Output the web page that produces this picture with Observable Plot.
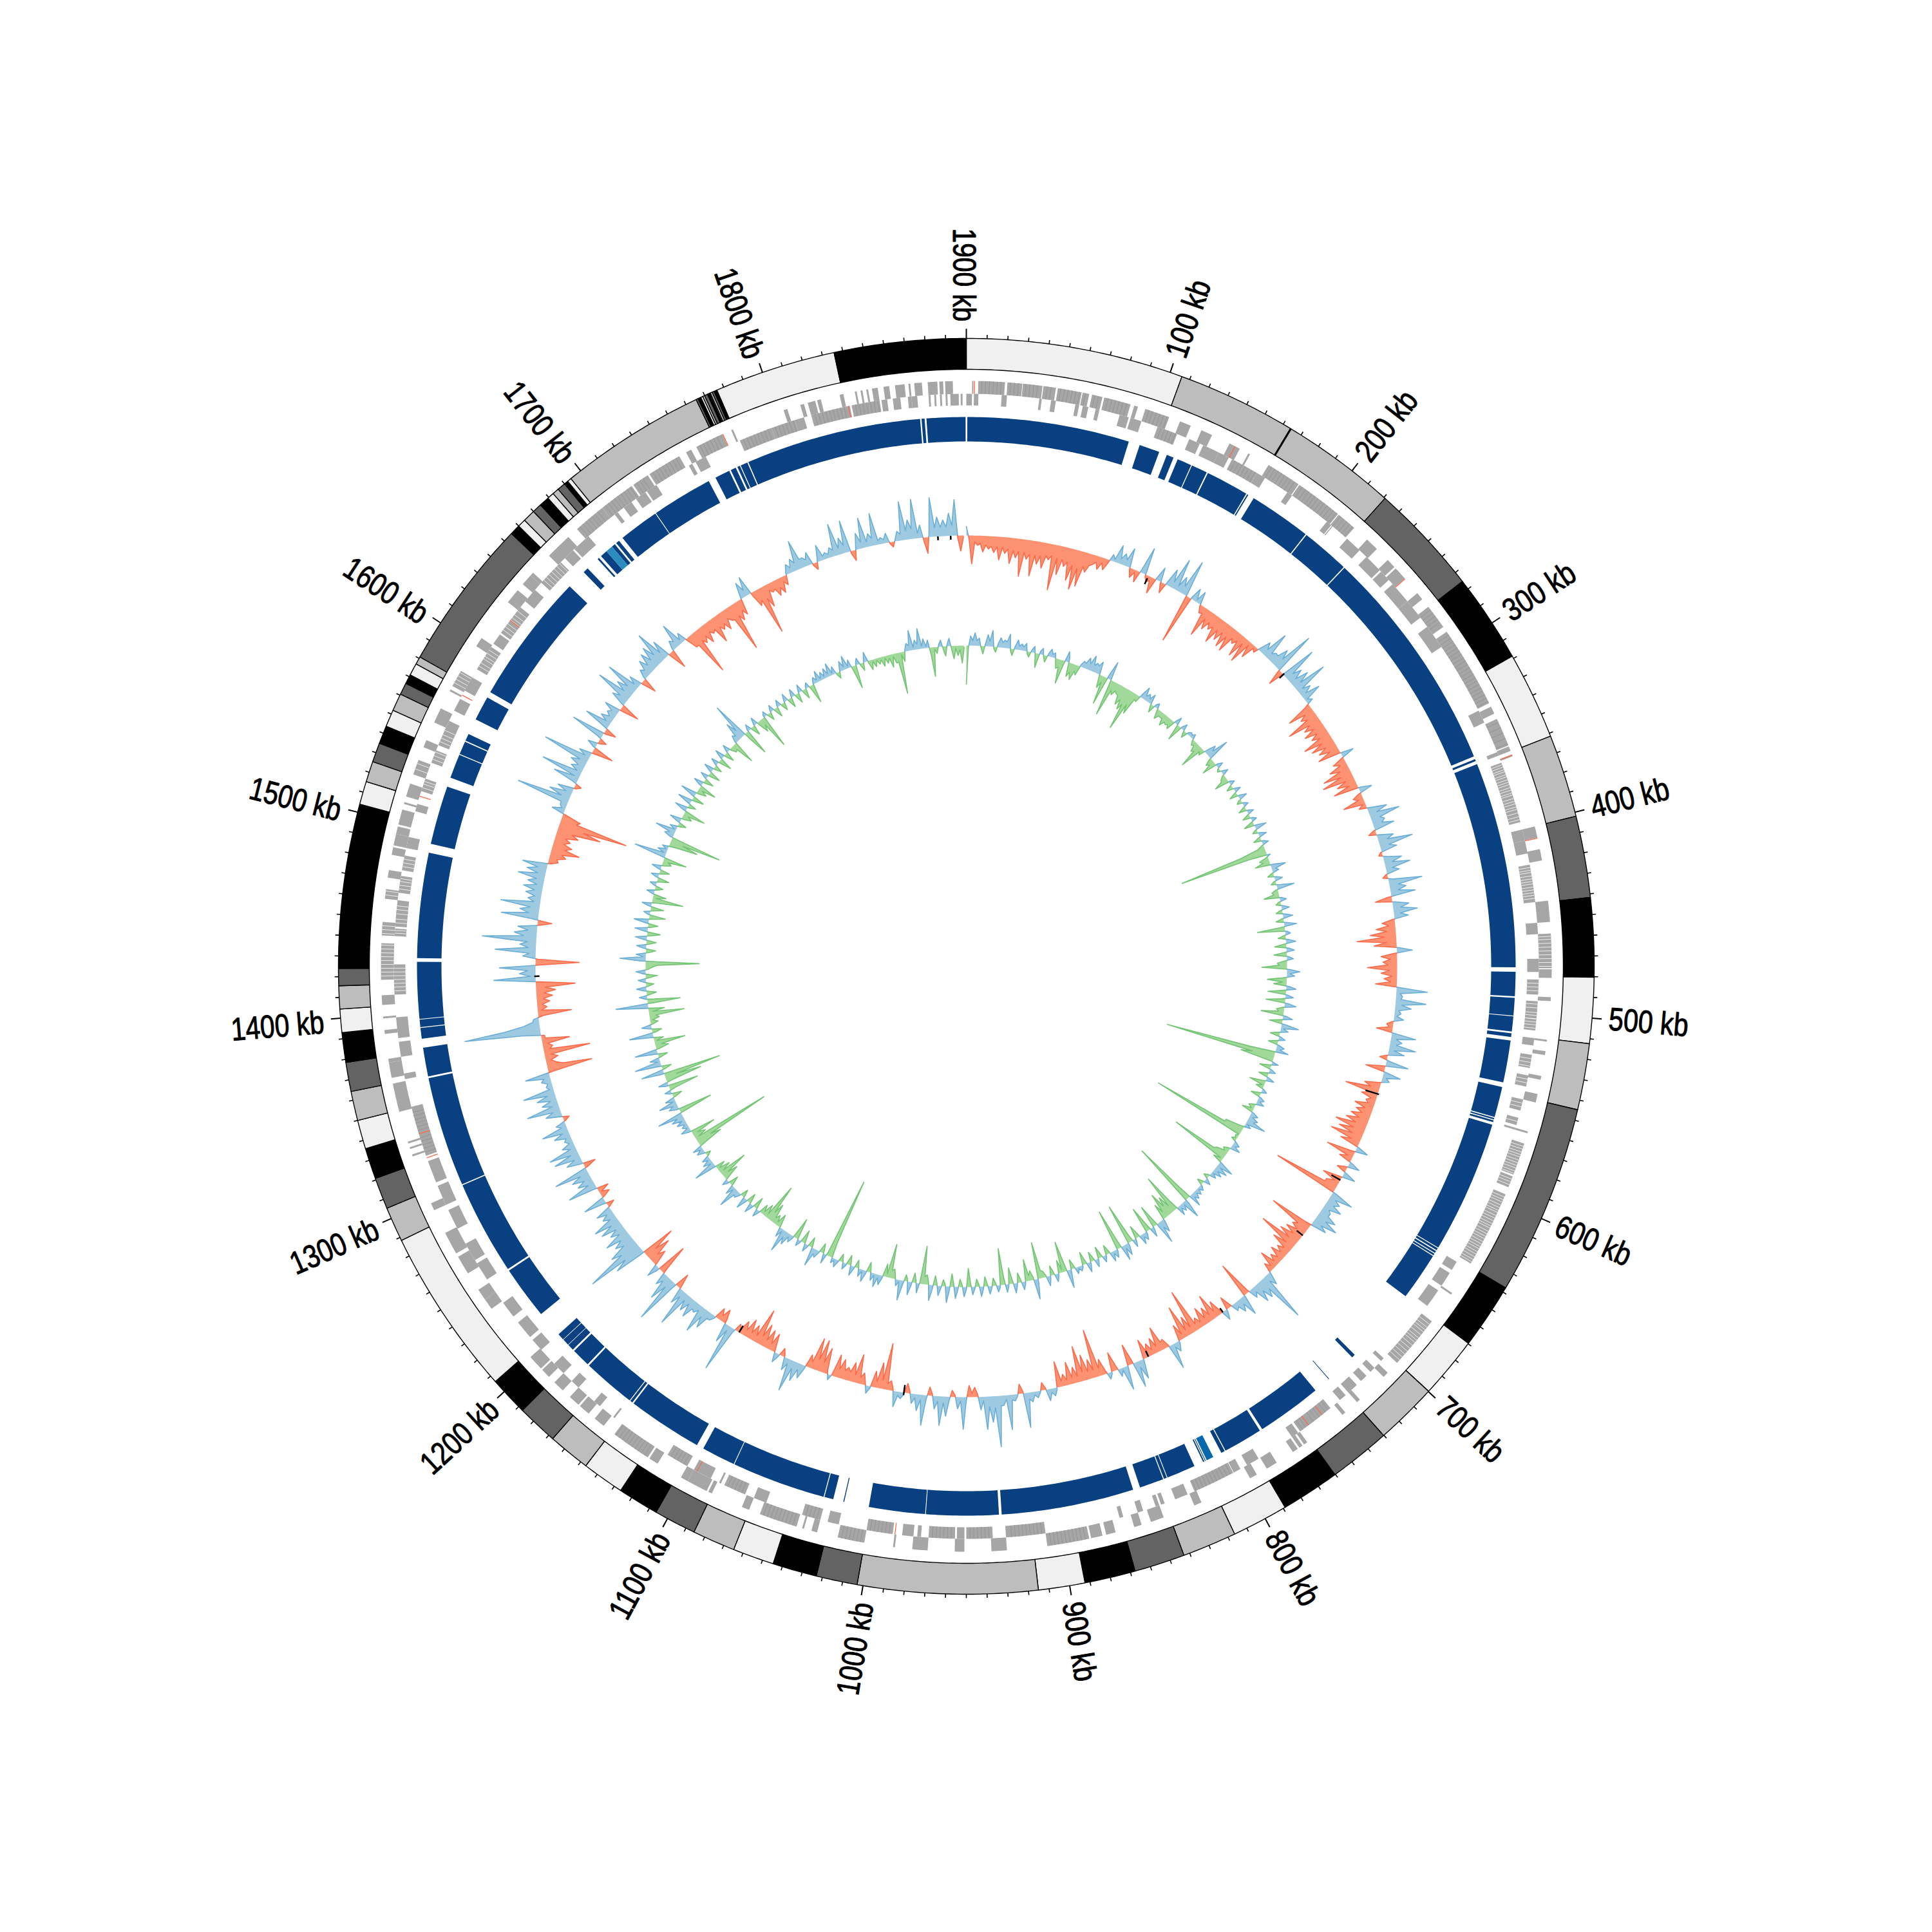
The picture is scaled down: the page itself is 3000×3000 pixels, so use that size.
<!DOCTYPE html>
<html><head><meta charset="utf-8">
<script src="https://cdn.jsdelivr.net/npm/d3@7"></script>
<script src="https://cdn.jsdelivr.net/npm/@observablehq/plot@0.6"></script>
<style>html,body{margin:0;padding:0;background:#fff}</style></head>
<body><div id="chart"></div>
<script>
const genomeKb = 1900;
const majorTicks = d3.range(100, 1901, 100);
const minorTicks = d3.range(10, 1901, 10).filter(k => k % 100 !== 0);
const tickLabels = majorTicks.map(k => k + " kb");

// contigs: [start kb, end kb, shade]
const contigs = [[0,106,"L"],[106,164,"B"],[164,164.5,"K"],[164.5,220.7,"B"],[220.7,275.5,"D"],[275.5,318.8,"K"],[318.8,361.5,"L"],[361.5,402,"B"],[402,441.7,"D"],[441.7,480.3,"K"],[480.3,512.4,"L"],[512.4,544.7,"B"],[544.7,637.6,"D"],[637.6,669.8,"K"],[669.8,699.8,"L"],[699.8,730.2,"B"],[730.2,760.3,"D"],[760.3,789,"K"],[789,816.5,"L"],[816.5,843,"B"],[843,867.7,"D"],[867.7,892.5,"K"],[892.5,915.2,"L"],[915.2,1002.9,"B"],[1002.9,1023,"D"],[1023,1044.6,"K"],[1044.6,1064.8,"L"],[1064.8,1085.7,"B"],[1085.7,1106.3,"D"],[1106.3,1126.3,"K"],[1126.3,1146.9,"L"],[1146.9,1167.5,"B"],[1167.5,1187.5,"D"],[1187.5,1206.5,"K"],[1206.5,1288.4,"L"],[1288.4,1305.4,"B"],[1305.4,1320.8,"D"],[1320.8,1335.9,"K"],[1335.9,1350,"L"],[1350,1364.3,"B"],[1364.3,1378.5,"D"],[1378.5,1393,"K"],[1393,1404.4,"L"],[1404.4,1415.6,"B"],[1415.6,1424,"D"],[1424,1504,"K"],[1504,1515.3,"L"],[1515.3,1525.4,"B"],[1525.4,1534.8,"D"],[1534.8,1543.7,"K"],[1543.7,1552,"L"],[1552,1560.6,"B"],[1560.6,1566.4,"D"],[1566.4,1571,"K"],[1571,1577,"L"],[1577,1580.8,"B"],[1580.8,1655,"D"],[1655,1660,"K"],[1660,1664,"L"],[1664,1670,"B"],[1670,1674.6,"D"],[1674.6,1679.5,"K"],[1679.5,1682.8,"L"],[1682.8,1686,"B"],[1686,1690,"D"],[1690,1692,"K"],[1692,1694,"L"],[1694,1765.5,"B"],[1765.5,1766.5,"D"],[1766.5,1768,"K"],[1768,1769,"L"],[1769,1770,"B"],[1770,1771.5,"D"],[1771.5,1772.5,"K"],[1772.5,1773,"L"],[1773,1774,"B"],[1774,1775,"D"],[1775,1776.5,"K"],[1776.5,1835.8,"L"],[1835.8,1900,"K"]];
const contigShades = {K:"#000000",D:"#636363",B:"#bdbdbd",L:"#f0f0f0"};

// forward-strand gene runs (outer row), kb
const forwardGenes = [[3,3.7],[6.2,20],[21.3,29],[29.3,39.5],[40,46.5],[47.5,60],[60.5,64],[65.5,71],[72,86],[88,90],[94,107],[113,119],[125,131],[141,147],[152,153],[164,182.5],[183,208],[208.5,219],[228,235],[243,248],[249,256],[266,270],[275,288],[291,334],[336,340],[343,358],[358.5,361],[363,364],[402,408],[414,420],[441,452],[458,476],[476.5,481],[491,493],[513,514],[519,521],[532,534],[541.5,546],[561.5,562.5],[568,585],[586,592],[596,636],[654,655],[672,700],[707,710],[727,729],[737,739],[762,764],[765,767],[768,771],[781,787],[793,797],[825,829],[846,853],[858,862],[872,877],[879,885],[886,908],[929,937],[951,956],[970,978],[987,988],[1003,1017],[1028,1031],[1035,1036],[1039,1059],[1065,1069],[1086,1088],[1089,1100],[1100,1104],[1118,1123],[1124,1145],[1152,1158],[1162,1168],[1169,1175],[1180,1186],[1190,1195],[1196,1204],[1236,1242],[1242,1248],[1258,1268],[1270,1282],[1295,1299],[1325,1326],[1329,1330],[1332,1333],[1349,1364],[1367,1375],[1375,1377],[1390,1392],[1398,1399],[1405,1410],[1418,1437],[1441,1448],[1460,1465],[1471,1475],[1483,1487],[1488,1494],[1494,1498],[1499,1507],[1510,1511],[1514,1521],[1526,1534],[1541,1545],[1555,1563],[1573,1574],[1576,1585],[1600,1605],[1628,1636],[1640,1646],[1646,1648],[1660,1674],[1680,1697],[1697,1716],[1717,1726],[1727,1745],[1749,1752],[1755,1770],[1775,1776],[1804,1806],[1813,1815],[1817,1821],[1822,1824],[1834,1836],[1842,1843],[1845,1846],[1848,1849],[1851,1854],[1857,1860],[1863,1868],[1870,1871],[1873,1877],[1880,1885],[1886,1888],[1889,1893]];
// reverse-strand gene runs (inner row), kb
const reverseGenes = [[0,3],[4,6.4],[18.7,21.5],[38.7,40],[45,47.5],[58,60],[62,65],[69,71],[82,87],[88,94],[103,114],[121,127],[129,138],[138,144],[146,161],[161,166],[180,183],[206,209],[209.5,210],[220,229],[234,244],[245,251],[254,266],[266,270],[269,277],[283,296],[335,342],[359,361],[365,398],[402,408],[408,415],[421,441],[452,458],[471,478],[482,490],[493.5,502.6],[503,509],[513,517],[522,529],[533,539],[546,552],[556,560],[561.5,562.5],[639,644],[646,654],[657,667],[703,705],[710,713],[716,720],[723,729],[731,735],[741.5,761.7],[763,767],[788,795],[799,803],[803.3,826],[830,837],[843,845],[846,848],[855,858],[866,868],[908,929],[936,950],[951,955],[956,970],[974,976],[978,984],[989,1003],[1018,1024],[1028,1038],[1058,1065],[1070,1082],[1084,1085],[1090,1100],[1104,1116],[1150,1151],[1160,1164],[1175,1180],[1186,1193],[1203,1210],[1212,1222],[1226,1235],[1250,1260],[1262,1272],[1281,1292],[1295,1306],[1308,1320],[1323,1350],[1365,1368],[1377,1385],[1387,1398],[1410,1426],[1441,1445],[1446,1454],[1452,1460],[1464,1473],[1476,1484],[1488,1494],[1508,1512],[1519,1526],[1535,1542],[1545,1555],[1553,1559],[1565,1572],[1577,1585],[1590,1604],[1606,1612],[1613,1630],[1634,1642],[1647,1662],[1665,1671],[1672,1682],[1700,1702],[1706,1711],[1714,1720],[1721,1727],[1747,1749],[1751,1757],[1777,1795],[1795,1808],[1808,1813],[1817,1838],[1839,1854],[1855,1858],[1861,1865],[1869,1871],[1871,1874],[1880,1881],[1883,1884],[1886,1887],[1889,1890],[1891.5,1896],[1897,1898]];
// gene boundaries inside the runs: pale gaps and darker seams, kb
const paleForward = [459.5,461,463,465,467,469,471,473,475,569.5,571,572.6,574,575.3,577,578.5,580,581.4,583,584.3,587.5,589,590.6,597.5,599,600.3,602,603.5,605,606.2,608,609.5,611,612.6,614,615.2,617,618.5,620,621.4,623,624.5,626,627.3,629,630.4,632,633.6,635,674,676,677.6,679,681,683,684.5,686,688,690,692,694,696,698,1420,1422,1424,1426,1428,1430,1432,1434,1436,1442,1444,1446,1462,1464,1529,1532,1578,1580,1582,1584];
const paleReverse = [366.2,367.5,369,370.1,371.8,373,374.6,376,377.3,379,380.4,382,383.1,385,386.6,388,389.7,391,393,395,396.6,422.5,424,425.2,427,428.6,430,431.3,433,434.5,436,437.4,439,484,486,488,495,497,499.5,501,504.5,506,507.8,524,526,528,535,537,548,550,558,1412,1414,1416,1418,1420,1422,1424,1442.5,1444,1448,1450,1452.8,1455,1457,1466,1468,1470,1471.5,1478,1480,1482,1521,1523,1524.5,1537,1539,1541,1547,1549,1551,1553.5,1592,1594,1596.5,1598,1600,1602,1615,1617,1619,1621.5,1623,1625,1627.5,1649,1651,1653,1655,1657,1659,1661];
const seamForward = [8,10,12,14,16,18,23,25,27,31,33,35,37,42,44,49,51,53,55,57,59,62,67,69,74,76,78,80,82,84,96,98,100,102,104,106,166,168,170,172,174,176,178,180,185,187,189,191,193,195,197,199,201,203,205,207,210,212,214,216,218,277,279,281,283,285,293,295,297,299,301,303,305,307,309,311,313,315,317,319,321,323,325,327,329,331,333,345,348,351,354,357,888,890,892,894,896,898,900,902,904,906,1005,1007,1009,1011,1013,1015,1041,1043,1045,1047,1049,1051,1053,1055,1057,1126,1128,1130,1132,1134,1136,1138,1140,1142,1144,1682,1684,1686,1688,1690,1692,1694,1699,1701,1703,1705,1707,1709,1711,1713,1715,1719,1721,1723,1729,1731,1733,1735,1737,1739,1741,1743,1757,1759,1761,1763,1765,1767];
const seamReverse = [105,107,109,111,113,148,150,152,154,156,158,160,743,745,749,751,753,758,760,805,807,809,811,813,815,817,819,821,823,825,910,912,914,916,918,920,922,924,926,938,940,942,944,946,948,958,960,962,964,966,968,991,993,995,997,999,1001,1030,1032,1034,1036,1072,1074,1076,1078,1080,1106,1108,1110,1112,1114,1325,1327,1329,1331,1333,1337,1339,1341,1343,1345,1347,1779,1781,1783,1785,1787,1789,1791,1793,1797,1799,1801,1803,1805,1807,1819,1821,1823,1825,1827,1829,1831,1833,1835,1841,1843,1845,1847,1849,1851,1853];
// RNA genes: forward / reverse positions, kb
const forwardRna = [4,144,256,363,408,1770];
const reverseRna = [747,756,987.6,1098,1321.6,1335,1516,1574,1621,1837];

// conserved blocks, kb
const blocks = [[0.55,90.8],[97.1,108.5],[113,117],[119.4,127.5],[128,137],[137.7,161.7],[162.3,163],[166.5,201.3],[201.9,229],[229.6,356.4],[358,359.2],[361,475.5],[478,491.5],[492.4,502.2],[502.6,511],[512,514],[516,539.4],[542,559],[559.6,560.4],[561,562],[563.5,637.5],[638,639.2],[639.8,641],[641.5,642.5],[643,669.8],[712.5,714.5],[731.8,732.2],[741.7,778],[779.5,801.4],[801.9,804],[813.6,814],[814.5,815.2],[820.5,836.6],[837,838.7],[839.2,852.7],[856.7,930.5],[932,972.3],[972.7,1004],[1017.8,1018.3],[1024,1029],[1029.5,1081.8],[1082.2,1101],[1105,1146.8],[1147.6,1149],[1149.5,1179],[1180,1190.5],[1191.5,1195],[1195.3,1199],[1199.3,1203],[1217.7,1247.5],[1248.5,1301],[1301.6,1363],[1364,1380],[1385,1391],[1391.4,1395.6],[1396,1427.5],[1429.5,1488],[1493,1525.8],[1531,1544.5],[1545,1552.4],[1553,1557],[1566,1579.7],[1583,1656],[1667,1670],[1677.5,1678.5],[1680,1684],[1688,1690],[1691,1693],[1695.5,1718],[1718.4,1752.4],[1756.6,1765],[1766,1769],[1770,1771.5],[1772,1776],[1776.6,1874.5],[1875.3,1877],[1878,1899.6]];
const lightBlocks = [[809,813],[1684,1688]];

// GC skew readings every 2 kb: [start kb, values]
const gcSkew = [
[0,[14,-6,-44,-10,-15,-12,-25,-14,-20,-16,-25,-16,-36,-16,-25,-18,-40,-20,-30,-20,-58,-20,-30,-22,-55,-22,-35,-22,-40,-20,-25,-18,-71,-20,-45,-20,-30,-22,-50,-25,-62,-28,-55,-22,-30,-18,-15,-10,-20,-8]],
[100,[-18,-6,10,4,28,8,18,10,30,-3,-14,-4,-18,5,42,-3,-10,-6,-25,3,22,-4,-16,6,28,10,50,8,25,12,57,4,-77,3,20,4,20,-3,-12,-10,-46,-15,-30,-16,-25,-18,-42,-18,-32,-16]],
[200,[-38,-18,-40,-14,-20,-12,-36,-10,-40,-6,-25,-4,-8,6,20,10,44,10,15,14,30,16,67,-3,-25,5,56,12,25,10,30,12,54,8,20,8,30,4,10,-8,-41,-14,-25,-16,-53,-18,-30,-16,-35,-16]],
[300,[-28,-16,-46,-18,-38,-16,-30,-14,-36,-2,20,-3,-20,-10,-30,-15,-45,-18,-50,-14,-30,-12,-39,4,20,-4,-15,-8,-34,-4,-12,8,30,12,47,14,20,14,32,-3,-12,6,25,14,53,14,25,-2,-6,8]],
[400,[28,12,39,10,20,-2,-8,8,52,14,25,12,38,-6,-26,6,25,12,37,10,22,-4,-20,-10,-30,-14,-40,-18,-61,-16,-35,4,24,-6,-25,-10,-22,-14,-46,-12,-25,-8,-20,-10,-33,8,48,6,10,8]],
[500,[47,10,25,6,10,4,15,-2,-10,-6,-25,4,38,8,18,10,41,8,25,-2,-12,6,35,-6,-30,4,27,6,12,-4,-25,-14,-53,-12,-25,-8,-15,-10,-30,-12,-25,-14,-30,-16,-35,-18,-49,-18,-40,-16]],
[600,[-50,-14,-30,3,19,-6,-45,-8,-20,4,18,-4,-15,4,20,-6,-30,-8,-20,-20,-103,6,36,10,20,12,28,10,15,14,30,16,38,14,25,-8,-69,-18,-25,-14,-30,-14,-35,-16,-64,-14,-35,-10,-20,-10]],
[700,[-25,-8,-18,-8,-30,-6,-15,4,20,10,78,18,30,14,30,8,15,-4,-56,4,32,10,20,8,12,-4,-20,4,15,-6,-25,-10,-41,-10,-25,-10,-30,-8,-18,-10,-70,-10,-30,-10,-52,-8,-25,4,15,6]],
[800,[39,-3,-15,-12,-39,-10,-25,-8,-20,-10,-30,4,30,10,40,-6,-33,4,37,4,12,-8,-30,3,10,-6,-25,-12,-75,-12,-30,-12,-40,-14,-56,-10,-25,-10,-35,-8,-18,-8,-40,3,12,6,18,-3,-12,3]],
[900,[10,5,15,10,54,-3,-15,3,10,8,54,6,15,16,79,18,40,16,51,6,20,-4,-15,-6,-18,5,50,6,18,-3,-10,6,30,10,45,8,20,-3,-13,6,47,8,25,6,15,-4,-15,3,10,6]],
[1000,[24,-4,-15,-10,-72,-14,-40,-10,-25,3,12,-4,-18,-10,-45,-12,-30,-14,-20,-14,-30,-14,-35,-3,8,-6,-40,-16,-50,-18,-50,-10,-20,6,22,10,30,12,50,8,20,-3,-12,4,15,-6,-28,-10,-30,-12]],
[1100,[-35,-14,-56,-10,-25,-10,-30,-10,-22,-6,-12,6,74,8,30,-6,-21,-8,-18,3,10,10,30,14,43,8,15,12,30,10,25,10,58,10,25,-5,-23,8,73,14,40,10,20,-10,-48,4,20,-6,-25,-14]],
[1200,[-40,-18,-53,8,50,30,92,30,45,18,30,16,40,12,25,12,35,14,41,10,20,10,25,-2,-12,8,35,-3,-15,-4,-18,8,46,10,25,12,30,14,54,-4,-19,6,25,10,41,12,45,8,20,6]],
[1300,[12,8,25,10,41,8,15,-2,-10,6,25,12,52,10,25,10,30,12,49,6,10,6,15,10,38,-10,-70,-25,-15,-8,-20,-10,-72,-10,-15,-8,-43,-6,-5,30,118,55,25,10,8,-8,-52,-6,-15,-8]],
[1400,[-20,-10,-25,-12,-30,-14,-61,-6,65,8,25,12,56,-10,-68,-4,20,10,63,12,25,14,84,20,35,14,30,-4,-22,10,58,16,30,14,61,10,20,10,25,12,30,10,25,12,42,12,30,14,39,-4]],
[1500,[-15,-12,-25,-18,-44,-20,-30,-16,-25,-16,-35,-24,-68,-40,-108,-25,-30,-5,20,6,10,10,84,14,35,10,25,-3,-10,6,40,8,64,8,20,10,25,12,75,8,20,-6,-33,3,15,-3,-12,6,53,-4]],
[1600,[-18,6,41,8,20,8,15,10,25,-6,-30,4,25,14,58,14,30,14,54,8,20,-4,-24,4,15,10,25,12,30,14,35,16,53,12,30,-6,-30,3,15,10,38,6,15,-4,-20,-20,-73,-18,-25,-16]],
[1700,[-30,-14,-20,-16,-41,-18,-25,-18,-30,-14,-20,-22,-76,-20,-30,-16,-25,4,25,10,30,-6,-25,-18,-75,-20,-35,-10,-15,-12,-25,-14,-24,-8,-15,4,15,8,20,12,46,14,15,10,20,-3,-11,6,25,6]],
[1800,[10,6,15,10,50,10,25,12,50,-4,-16,5,25,10,47,8,20,12,50,6,10,6,15,-2,-8,3,15,10,60,14,30,16,61,8,20,-5,-25,6,61,14,30,14,25,14,35,16,56,-4,-24,-2]]
];
// GC content readings every 2 kb: [start kb, values]
const gcContent = [
[0,[-60,-3,15,8,20,8,12,-3,-12,4,18,8,25,-2,-8,6,15,8,12,10,22,-3,-10,5,15,6,10,6,12,-3,-8,4,10,-5,-22,4,10,-3,-10,4,12,5,8,-4,-15,-12,-37,-8,16,6]],
[100,[-22,-14,-25,-10,-15,3,10,8,18,10,24,10,15,12,20,-4,-20,-10,-44,6,29,-10,-57,-14,-20,-12,-15,-16,-30,-20,-35,-25,-65,-22,-35,-8,-10,6,19,6,12,6,15,-3,-12,4,8,-4,-15,-8]],
[200,[-8,-8,-18,-10,-12,-10,-15,3,12,-6,-25,3,10,-3,-10,3,6,4,8,-3,-8,-6,-15,-12,-39,-6,-10,6,18,10,35,-3,-12,-8,-23,3,10,-2,-5,3,10,-3,-8,-10,-23,3,8,-3,-10,3]],
[300,[10,-3,-13,4,13,-3,-8,3,8,-3,-12,3,10,-3,-12,3,8,-4,-16,5,18,-2,-8,4,12,-3,-12,3,10,-3,-10,-40,-139,-30,5,-3,-15,-10,-24,6,23,6,10,-3,-10,4,12,-3,-8,6]],
[400,[27,-3,-10,-8,-24,3,10,-3,-8,4,12,-3,-10,5,15,-3,-12,5,19,-8,-43,3,8,-3,-12,5,15,-4,-18,4,12,-4,-20,3,10,-4,-15,-12,-39,5,20,5,12,-6,-30,-6,-20,5,15,-6]],
[500,[-28,3,12,-6,-30,5,18,-3,-12,-8,-35,5,15,-4,-20,8,27,4,12,-3,-15,3,10,-3,-15,3,12,6,20,-40,-173,-35,-52,-3,10,-3,-18,3,10,-3,-15,3,12,-5,-25,-3,-12,3,8,-3]],
[600,[-15,3,10,4,12,-3,-10,-4,-18,4,12,5,15,10,31,3,10,-6,-30,-30,-149,-2,-5,-3,-8,3,10,5,15,-3,-10,-6,-18,-22,-92,-4,-15,6,25,6,20,6,15,3,10,-3,-8,3,10,-3]],
[700,[-10,3,8,3,10,4,12,6,20,-22,-102,8,30,4,12,5,15,-14,-63,-12,-30,-16,-40,-10,-25,6,20,10,35,-8,-35,4,15,-10,-40,4,12,5,15,-5,-20,3,12,-12,-63,5,18,6,23,-10]],
[800,[-64,3,12,4,15,-4,-15,3,10,-4,-18,3,12,-4,-15,4,15,-4,-20,3,8,3,10,-4,-15,8,28,-10,-48,-5,-20,3,12,-3,-15,4,15,-3,-10,-12,-57,8,31,-4,-15,-8,-34,3,12,-3]],
[900,[-15,4,15,-5,-25,3,12,-12,-57,3,10,-3,-12,3,12,-3,-15,4,15,-3,-12,3,12,-6,-29,4,15,-3,-12,5,18,-4,-20,7,25,-3,-10,4,15,-4,-15,7,24,-4,-15,-12,-59,-4,15,-4]],
[1000,[-15,5,20,-3,-10,8,31,3,10,-4,-15,-12,-53,-5,-20,4,15,5,20,3,12,-4,-15,5,18,3,12,-3,-12,4,15,-4,-15,3,10,-3,-12,3,12,3,8,-25,-127,-5,15,-4,-15,3,12,8]],
[1100,[29,-4,-15,3,12,-5,-20,3,10,-8,-33,3,12,5,20,10,36,4,15,-5,-20,-5,-15,-8,-30,-14,-59,-6,-20,-5,-15,3,12,-4,-18,4,15,-4,-15,5,18,-3,-12,3,10,8,33,4,15,-4]],
[1200,[-15,3,10,-6,-25,-10,-45,-6,-20,-4,-15,8,35,4,15,4,12,-2,-8,3,12,4,15,-10,-40,-24,-124,-6,-20,-8,-39,4,15,3,10,4,15,5,20,10,40,-10,-53,4,15,7,28,4,15,-4]],
[1300,[-15,3,10,-10,-47,4,15,-12,-57,-18,-90,6,35,-4,-15,8,41,4,15,-4,-15,8,35,-5,-20,-10,-48,-4,-15,8,37,-4,-15,4,15,-3,-12,-4,-15,-10,-55,-6,-25,12,50,-10,-51,3,12,-4]],
[1400,[-15,4,15,-3,-12,3,12,-4,-18,4,15,-3,-10,-18,-83,8,40,4,15,-4,-15,4,15,-4,-15,4,18,-5,-20,5,20,-4,-15,6,23,-6,-25,3,10,-5,-20,4,15,-10,-48,-5,-20,3,12,-3]],
[1500,[-12,3,10,-4,-18,3,12,-4,-15,4,15,-4,-14,-8,-36,10,50,4,15,3,10,-10,-45,-20,-80,4,15,8,32,3,12,-3,-12,5,18,-4,-15,-8,-34,5,20,-3,-12,6,22,-4,-18,6,25,-4]],
[1600,[-15,-6,-27,4,15,-4,-15,3,12,-4,-18,4,15,-3,-12,3,12,-5,-20,4,15,-4,-15,3,12,-3,-10,-8,-36,3,12,8,30,14,59,-8,-41,3,10,-4,-15,3,12,-5,-20,-10,-52,3,8,-3]],
[1700,[-12,3,10,-4,-15,3,10,-3,-12,3,12,-4,-15,3,12,-4,-15,3,12,-4,-15,3,8,-6,-29,3,10,4,17,3,12,4,15,5,20,3,12,-3,-10,4,15,5,21,3,12,-8,-36,3,10,-3]],
[1800,[-12,4,15,-4,-15,-3,-12,-3,-10,-4,-15,-3,-12,-5,-20,-4,-15,-14,-64,-4,-15,3,12,8,31,4,15,8,32,4,15,3,12,-10,-45,-3,-10,3,10,-4,-15,3,12,-5,-20,-4,-15,-6,-27,-3]]
];
// short black marks on the skew ring: [kb, inner offset, outer offset]
const skewMarks = [[132,-14,-4],[250,-8,2],[566,-20,2],[632,-16,0],[679,-12,0],[757,-8,0],[818,-10,0],[994,-12,4],[1118,-12,0],[1418,-6,2],[1880,-6,0],[1889,-6,0]];

const T = genomeKb;
const pol = (kb, r) => { const a = kb / T * 2 * Math.PI; return {x: r * Math.sin(a), y: r * Math.cos(a)}; };
let nid = 0;
function ring(s, e, r0, r1, c) {
  const id = nid++, n = Math.max(1, Math.ceil((e - s) / 2.5)), out = [];
  for (let i = 0; i <= n; i++) out.push({...pol(s + (e - s) * i / n, r1), id, c});
  for (let i = n; i >= 0; i--) out.push({...pol(s + (e - s) * i / n, r0), id, c});
  out.push(out[0]);
  return out;
}
const contigPts = contigs.flatMap(([s, e, k]) => ring(s, e, 927, 975, contigShades[k]));
const blockPts = blocks.flatMap(([s, e]) => ring(s, e, 815, 853, "#084081"))
  .concat(lightBlocks.flatMap(([s, e], i) => ring(s, e, 815, 853, i ? "#2b8cbe" : "#0868ac")));
const genePts = forwardGenes.flatMap(([s, e]) => ring(s, e, 889, 909, "#a6a6a6"))
  .concat(reverseGenes.flatMap(([s, e]) => ring(s, e, 871, 889, "#a6a6a6")));
const rnaPts = forwardRna.flatMap(k => ring(k, k + 0.45, 889, 909, "#fb6a4a"))
  .concat(reverseRna.flatMap(k => ring(k, k + 0.45, 871, 889, "#fb6a4a")));

function track(segments, base, posLine, posFill, negLine, negFill) {
  const s = segments.flatMap(([k0, vals]) => vals.map((v, i) => ({kb: k0 + i * 2, v})));
  const lines = [], polys = [];
  let run = [], sign = 0;
  const flush = () => {
    if (!run.length) return;
    const id = nid++, lc = sign > 0 ? posLine : negLine, fc = sign > 0 ? posFill : negFill;
    run.forEach(p => lines.push({...pol(p.kb, base + p.v), id, c: lc}));
    const id2 = nid++;
    run.forEach(p => polys.push({...pol(p.kb, base + p.v), id: id2, c: fc}));
    run.slice().reverse().forEach(p => polys.push({...pol(p.kb, base), id: id2, c: fc}));
    run = [];
  };
  s.forEach((p, i) => {
    const sg = Math.sign(p.v);
    if (sg !== sign && sign !== 0) {
      const q = s[i - 1], kc = q.kb + (p.kb - q.kb) * q.v / (q.v - p.v);
      run.push({kb: kc, v: 0}); flush();
      run.push({kb: kc, v: 0});
    }
    sign = sg; run.push(p);
  });
  flush();
  return {lines, polys};
}
const skewTrack = track(gcSkew, 669, "#6baed6", "#9ecae1", "#fb6a4a", "#fc9272");
const contentTrack = track(gcContent, 498, "#6baed6", "#9ecae1", "#74c476", "#a1d99b");

const polyMark = (pts, extra = {}) => Plot.line(pts, {x: "x", y: "y", z: "id", fill: {value: "c", scale: null}, stroke: "none", curve: "linear", ...extra});
const strokeMark = (pts) => Plot.line(pts, {x: "x", y: "y", z: "id", stroke: {value: "c", scale: null}, strokeWidth: 1.6, curve: "linear"});
const radial = (data, f0, f1, sw, color = "black") => Plot.link(data, {
  x1: d => pol(f0(d).kb, f0(d).r).x, y1: d => pol(f0(d).kb, f0(d).r).y,
  x2: d => pol(f1(d).kb, f1(d).r).x, y2: d => pol(f1(d).kb, f1(d).r).y,
  stroke: color, strokeWidth: sw});
const seams = (data, r0, r1, sw, color) => radial(data, k => ({kb: k, r: r0}), k => ({kb: k, r: r1}), sw, color);

const labelData = majorTicks.map((kb, i) => ({kb, label: tickLabels[i], theta: kb / T * 360}));
// left-half labels sit slightly below their tick line in the text's own frame
const labelX = (d, drop) => pol(d.kb, 1001).x - drop * Math.sin((d.theta + 90) * Math.PI / 180);
const labelY = (d, drop) => pol(d.kb, 1001).y - drop * Math.cos((d.theta + 90) * Math.PI / 180);
const labelMark = (data, anchor, rot, drop) => Plot.text(data, {
  x: d => labelX(d, drop), y: d => labelY(d, drop), text: "label",
  rotate: rot, textAnchor: anchor, lineAnchor: "middle",
  fontFamily: "Liberation Sans", fontSize: 50, fill: "black", stroke: "black", strokeWidth: 1});

const chart = Plot.plot({
  width: 3000, height: 3000, margin: 0, inset: 0,
  x: {domain: [-1500, 1500], range: [0, 3000], axis: null},
  y: {domain: [-1500, 1500], range: [3000, 0], axis: null},
  style: {background: "white"},
  marks: [
    polyMark(contigPts, {stroke: "black", strokeWidth: 1.4}),
    radial(minorTicks, k => ({kb: k, r: 975}), k => ({kb: k, r: 981}), 1.6),
    radial(majorTicks, k => ({kb: k, r: 975}), k => ({kb: k, r: 990}), 2),
    labelMark(labelData.filter(d => d.theta < 180), "start", d => d.theta - 90, 0),
    labelMark(labelData.filter(d => d.theta >= 180), "end", d => d.theta + 90, 5),
    polyMark(genePts),
    seams(seamForward, 889, 909, 0.9, "#929292"),
    seams(seamReverse, 871, 889, 0.9, "#929292"),
    seams(paleForward, 889, 909, 0.8, "#ffffff"),
    seams(paleReverse, 871, 889, 0.8, "#ffffff"),
    polyMark(rnaPts),
    polyMark(blockPts),
    polyMark(skewTrack.polys),
    strokeMark(skewTrack.lines),
    polyMark(contentTrack.polys),
    strokeMark(contentTrack.lines),
    radial(skewMarks, d => ({kb: d[0], r: 669 + d[1]}), d => ({kb: d[0], r: 669 + d[2]}), 2.5)
  ]
});
// the labels are set in a condensed width, as in the reference
chart.querySelectorAll("text").forEach(t => {
  const digits = t.textContent.replace(/\D/g, "").length;
  t.setAttribute("textLength", 61 + 21 * digits);
  t.setAttribute("lengthAdjust", "spacingAndGlyphs");
});
document.getElementById("chart").append(chart);
</script></body></html>
